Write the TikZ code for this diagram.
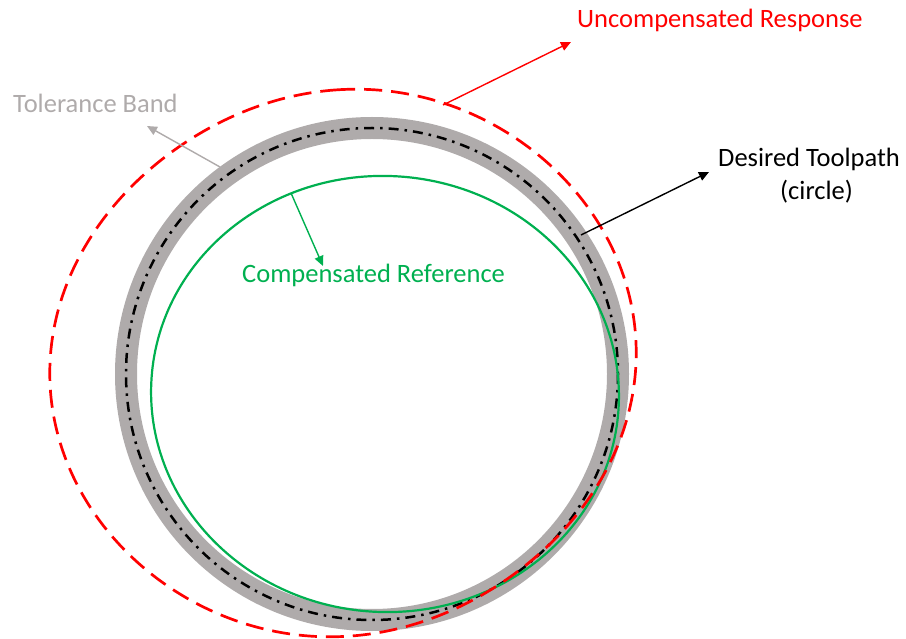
\documentclass[tikz,border=0pt]{standalone}
\usepackage{fontspec}
\setmainfont{Carlito}
\usetikzlibrary{arrows.meta}
\definecolor{bandgray}{HTML}{AFABAB}
\definecolor{refgreen}{HTML}{00B050}
\definecolor{respred}{HTML}{FF0000}
\tikzset{
  band/.style={draw=bandgray, line width=22pt},
  toolpath/.style={draw=black, line width=2.5pt,
    dash pattern=on 10pt off 6pt on 2.5pt off 6pt},
  compref/.style={draw=refgreen, line width=2.2pt},
  uncomp/.style={draw=respred, line width=2.7pt, dash pattern=on 18pt off 9pt},
  pointer/.style={line width=1.4pt, -{Triangle[length=10pt,width=9pt]}},
  lbl/.style={font=\fontsize{26.5}{30}\selectfont, inner sep=0pt, anchor=base west},
}
% radius of the uncompensated response as a function of the polar angle
\newcommand{\respradius}[1]{(281.5+9.75*cos(2*(#1))+6.25*sin(2*(#1))+1.75*cos(4*(#1)))}
\begin{document}
\begin{tikzpicture}[x=1pt,y=-1pt]
\useasboundingbox (0,0) rectangle (906,639);

% tolerance band around the desired circular toolpath
\draw[band] (372,374) circle[radius=246];
\draw[toolpath] (372,374) circle[radius=246];

% compensated reference
\draw[compref, rotate around={-4:(385,394)}] (385,394) ellipse[x radius=234, y radius=218];

% uncompensated response
\draw[uncomp] plot[domain=90:449, samples=360, smooth cycle]
  ({343+\respradius{\x}*cos(\x)}, {363-\respradius{\x}*sin(\x)});

% labels
\node[lbl, text=respred] (uncl) at (577,28) {Uncompensated Response};
\node[lbl, text=bandgray] (tolbl) at (13,113) {Tolerance Band};
\node[lbl, text=black] (desl) at (718,167) {Desired Toolpath};
\node[lbl, text=black] (desl2) at (780,200) {(circle)};
\node[lbl, text=refgreen] (cmpl) at (242,283) {Compensated Reference};

% pointer ends
\coordinate (uncA) at (443,105);  \coordinate (uncB) at (571,42);
\coordinate (tolA) at (220,167);  \coordinate (tolB) at (147,126);
\coordinate (desA) at (581,235);  \coordinate (desB) at (709,172);
\coordinate (cmpA) at (291,193);  \coordinate (cmpB) at (323,266);

\draw[pointer, respred] (uncA) -- (uncB);
\draw[pointer, bandgray] (tolA) -- (tolB);
\draw[pointer, black] (desA) -- (desB);
\draw[pointer, refgreen] (cmpA) -- (cmpB);
\end{tikzpicture}
\end{document}
